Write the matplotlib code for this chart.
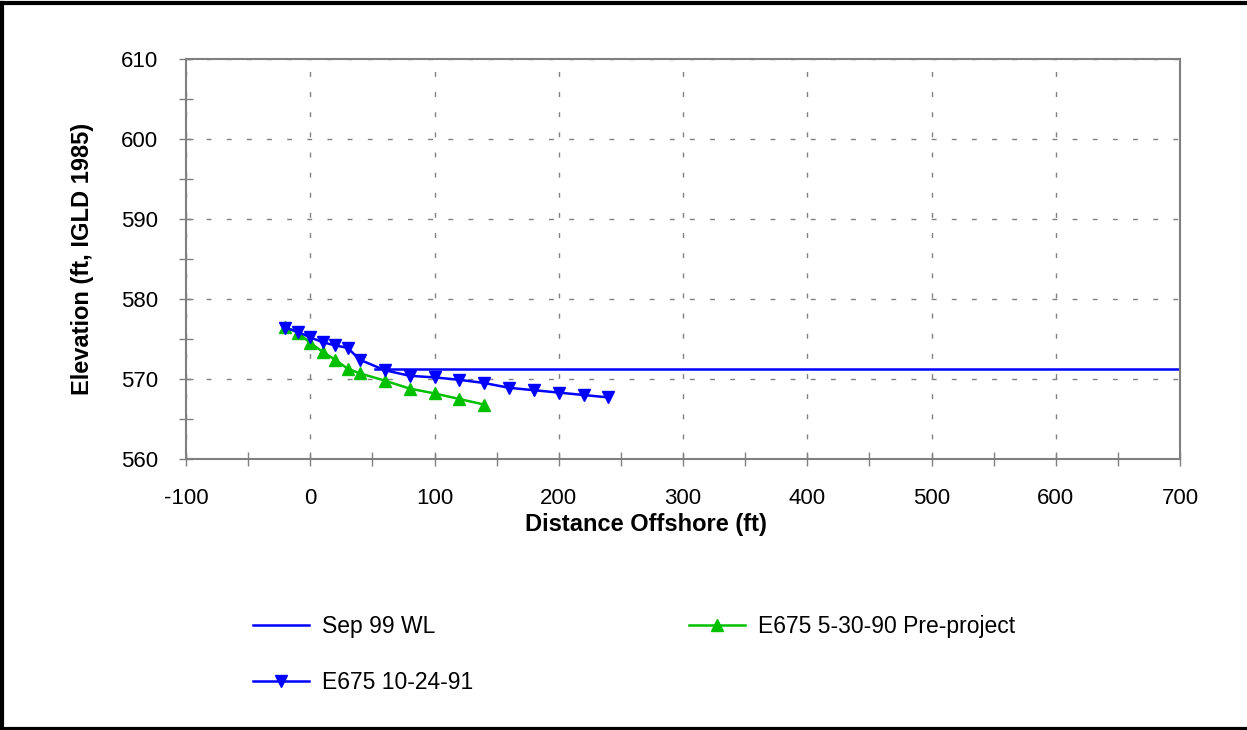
import matplotlib
matplotlib.use("Agg")
import matplotlib.pyplot as plt
from matplotlib.ticker import MultipleLocator
from matplotlib.lines import Line2D

plt.rcParams["font.family"] = ["Liberation Sans", "DejaVu Sans"]
plt.rcParams["axes.unicode_minus"] = False

# Sep 99 water level
wl_x = [52, 700]
wl_y = [571.3, 571.3]

# E675 5-30-90 Pre-project
pre_x = [-20, -10, 0, 10, 20, 30, 40, 60, 80, 100, 120, 140]
pre_y = [576.5, 575.8, 574.5, 573.4, 572.4, 571.3, 570.7, 569.8, 568.8, 568.2, 567.5, 566.8]

# E675 10-24-91
post_x = [-20, -10, 0, 10, 20, 30, 40, 60, 80, 100, 120, 140, 160, 180, 200, 220, 240]
post_y = [576.4, 575.9, 575.2, 574.6, 574.2, 573.9, 572.4, 571.1, 570.4, 570.2, 569.9, 569.5,
          568.9, 568.6, 568.3, 568.0, 567.7]

BLUE = "#0000ff"
GREEN = "#00c000"
GRAY = "#808080"

fig = plt.figure(figsize=(12.47, 7.30), dpi=100)
ax = fig.add_axes([186 / 1247, 1 - 459 / 730, (1180 - 186) / 1247, 400 / 730])

ax.plot(wl_x, wl_y, color=BLUE, lw=1.8, label="Sep 99 WL")
ax.plot(pre_x, pre_y, color=GREEN, lw=1.8, marker="^", ms=8, label="E675 5-30-90 Pre-project")
ax.plot(post_x, post_y, color=BLUE, lw=1.8, marker="v", ms=8, label="E675 10-24-91")

ax.set_xlim(-100, 700)
ax.set_ylim(560, 610)
ax.xaxis.set_major_locator(MultipleLocator(100))
ax.xaxis.set_minor_locator(MultipleLocator(50))
ax.yaxis.set_major_locator(MultipleLocator(10))
ax.yaxis.set_minor_locator(MultipleLocator(5))
ax.tick_params(which="both", direction="inout", color=GRAY, labelsize=16, length=10, width=1)
ax.tick_params(axis="x", pad=16)
ax.tick_params(axis="y", pad=15)
ax.grid(True, which="major", color=GRAY, ls=(0, (3.5, 11)), lw=1)
for s in ax.spines.values():
    s.set_color(GRAY)
    s.set_linewidth(1.5)

ax.set_xlabel("Distance Offshore (ft)", fontsize=17, fontweight="bold")
ax.set_ylabel("Elevation (ft, IGLD 1985)", fontsize=17, fontweight="bold")
ax.xaxis.set_label_coords(0.463, -0.135)
ax.yaxis.set_label_coords(-0.093, 0.5)

h, l = ax.get_legend_handles_labels()
order = [0, 2, 1]
fig.legend([h[i] for i in order], [l[i] for i in order], ncol=2, frameon=False,
           loc="upper left", bbox_to_anchor=(253 / 1247, 1 - 615 / 730),
           fontsize=16.5, handlelength=2.45, handletextpad=0.57, labelspacing=1.45,
           columnspacing=9.4, borderpad=0, borderaxespad=0)

# outer border
for xs, ys in [([0.002, 0.002], [0.002, 0.996]), ([0.002, 1], [0.996, 0.996]), ([0.002, 1], [0.002, 0.002])]:
    fig.add_artist(Line2D(xs, ys, color="black", lw=3, transform=fig.transFigure))

fig.savefig("out.png", dpi=100)
